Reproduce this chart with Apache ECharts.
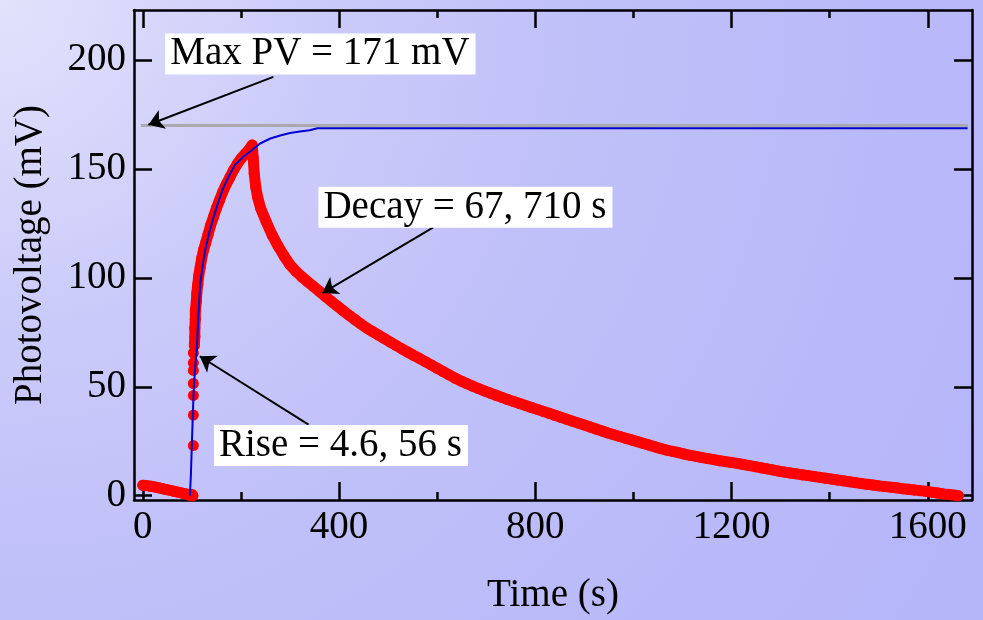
<!DOCTYPE html>
<html>
<head>
<meta charset="utf-8">
<title>Photovoltage rise and decay</title>
<script src="https://cdn.jsdelivr.net/npm/echarts@6/dist/echarts.min.js"></script>
<style>
  html, body { margin: 0; padding: 0; }
  #chart { width: 983px; height: 620px; }
</style>
</head>
<body>
<div id="chart"></div>
<script>
// measured points (time in s, photovoltage in mV)
const dataTime = [
  0, 8, 16, 24, 32, 40, 48, 56, 64, 72, 80, 88, 94, 98, 100, 102,
  103, 103, 103, 103, 103, 103, 103, 105, 106, 106, 107, 107, 109, 110, 112, 114,
  117, 120, 124, 128, 133, 138, 144, 150, 156, 163, 170, 177, 185, 193, 201, 209,
  215, 220, 223, 225, 227, 230, 234, 240, 252, 264, 276, 288, 300, 312, 324, 336,
  348, 360, 372, 384, 396, 408, 420, 432, 444, 456, 468, 480, 492, 504, 516, 528,
  540, 552, 564, 576, 588, 600, 612, 624, 636, 648, 660, 672, 684, 696, 708, 720,
  732, 744, 756, 768, 780, 792, 804, 816, 828, 840, 852, 864, 876, 888, 900, 912,
  924, 936, 948, 960, 972, 984, 996, 1008, 1020, 1032, 1044, 1056, 1068, 1080, 1092, 1104,
  1116, 1128, 1140, 1152, 1164, 1176, 1188, 1200, 1212, 1224, 1236, 1248, 1260, 1272, 1284, 1296,
  1308, 1320, 1332, 1344, 1356, 1368, 1380, 1392, 1404, 1416, 1428, 1440, 1452, 1464, 1476, 1488,
  1500, 1512, 1524, 1536, 1548, 1560, 1572, 1584, 1596, 1608, 1620, 1632, 1644, 1656, 1662
];
const dataVolt = [
  4.8, 4.6, 4.3, 4.0, 3.6, 3.2, 2.8, 2.4, 2.0, 1.6, 1.2, 0.8, 0.3, 0, 0.5, 0,
  23, 37, 46, 51.5, 57.5, 61, 65.5, 69, 73, 77, 81, 85, 89, 93, 97, 101,
  105, 109, 113, 116, 120, 124, 128, 132, 135.5, 139.5, 143, 146, 149.5, 152.5, 155, 157,
  158.5, 160, 161, 155, 148, 142, 137, 132, 125.5, 119.5, 114.5, 110, 106, 103, 100.5, 98.2,
  96, 93.8, 91.5, 89.3, 87.1, 85, 82.9, 80.9, 78.9, 77, 75.4, 73.8, 72.2, 70.6, 69, 67.4,
  65.9, 64.4, 63, 61.5, 60, 58.5, 57, 55.5, 54, 52.7, 51.5, 50.3, 49.2, 48.1, 47.1, 46.1,
  45.1, 44.1, 43.2, 42.3, 41.4, 40.5, 39.6, 38.7, 37.8, 36.9, 36, 35.1, 34.2, 33.3, 32.4, 31.5,
  30.6, 29.7, 28.8, 28, 27.2, 26.4, 25.6, 24.8, 24, 23.2, 22.4, 21.6, 20.9, 20.3, 19.7, 19.1,
  18.5, 18, 17.5, 17, 16.5, 16, 15.6, 15.2, 14.8, 14.3, 13.8, 13.3, 12.8, 12.3, 11.8, 11.3,
  10.8, 10.4, 10, 9.6, 9.2, 8.8, 8.4, 8, 7.6, 7.2, 6.8, 6.4, 6, 5.6, 5.2, 4.9,
  4.5, 4.2, 3.9, 3.6, 3.2, 2.9, 2.6, 2.3, 2, 1.6, 1.2, 0.8, 0.5, 0.2, 0
];

// fitted curve
const fitTime = [96, 98, 100, 102, 104, 107, 110, 113, 117, 122, 127, 135, 144, 154, 164, 176, 188, 205, 219, 239, 260, 280, 300, 320, 340, 356, 1681];
const fitVolt = [0, 10, 24, 38, 50, 60, 67.3, 82, 97.5, 106, 112.6, 120.5, 127.7, 135, 141.3, 147, 151.9, 155.7, 158, 161.7, 164, 165.4, 166.5, 167.2, 167.8, 168.7, 168.7];

// max photovoltage line
const maxTime = [-4, 1682];
const maxVolt = [170, 170];

// axis ticks
const xMajorTicks = [0, 400, 800, 1200, 1600];
const xMinorTicks = [200, 600, 1000, 1400];
const yTicks = [0, 50, 100, 150, 200];

// annotations: text, box anchor (left, middle) and arrow from / to
const noteTexts = ['Max PV = 171 mV', 'Decay = 67, 710 s', 'Rise = 4.6, 56 s'];
const noteAnchors = [[45.6, 202.8], [357.9, 132.4], [145.1, 23]];
const arrowFrom = [[266, 192.3], [592, 123.2], [337.8, 32.6]];
const arrowTo = [[11.4, 170.3], [366, 93], [116, 64]];

const FONT = "'Liberation Serif', 'DejaVu Serif', serif";
const FRAME = { color: '#000', width: 2.5 };
const RED = '#ff0000';

const pairs = (xs, ys) => xs.map((x, i) => [x, ys[i]]);

// the sparse points on the steep part of the rise are left as single dots
const preRise = pairs(dataTime.slice(0, 16), dataVolt.slice(0, 16));
const afterRise = pairs(dataTime.slice(23), dataVolt.slice(23));

function xAxisDef(position, ticks, len, withLabels, withLine) {
  return {
    type: 'value',
    min: -18,
    max: 1690,
    position: position,
    axisLine: { show: withLine, onZero: false, lineStyle: FRAME },
    axisTick: { show: true, inside: true, length: len, customValues: ticks, lineStyle: FRAME },
    axisLabel: withLabels
      ? { show: true, customValues: ticks, formatter: v => String(v), color: '#000', fontFamily: FONT, fontSize: 39, margin: 8 }
      : { show: false },
    splitLine: { show: false }
  };
}

function yAxisDef(position, withLabels) {
  return {
    type: 'value',
    min: -2,
    max: 223,
    position: position,
    axisLine: { show: true, onZero: false, lineStyle: FRAME },
    axisTick: { show: true, inside: true, length: 18, customValues: yTicks, lineStyle: FRAME },
    axisLabel: withLabels
      ? { show: true, customValues: yTicks, formatter: v => String(v), color: '#000', fontFamily: FONT, fontSize: 39, margin: 8 }
      : { show: false },
    splitLine: { show: false }
  };
}

function bandSeries(data) {
  return {
    type: 'line',
    data: data,
    symbol: 'none',
    silent: true,
    lineStyle: { color: RED, width: 11, cap: 'round', join: 'round' },
    z: 2
  };
}

const chart = echarts.init(document.getElementById('chart'), null, { renderer: 'canvas' });

const bottomAxis = xAxisDef('bottom', xMajorTicks, 18, true, true);
bottomAxis.name = 'Time (s)';
bottomAxis.nameLocation = 'middle';
bottomAxis.nameGap = 76;
bottomAxis.nameTextStyle = { color: '#000', fontFamily: FONT, fontSize: 39 };

const leftAxis = yAxisDef('left', true);
leftAxis.name = 'Photovoltage (mV)';
leftAxis.nameLocation = 'middle';
leftAxis.nameGap = 84;
leftAxis.nameTextStyle = { color: '#000', fontFamily: FONT, fontSize: 39 };

chart.setOption({
  animation: false,
  backgroundColor: new echarts.graphic.RadialGradient(0, 0, 1.8, [
    { offset: 0, color: '#e2e2fc' },
    { offset: 0.3, color: '#cacafa' },
    { offset: 0.55, color: '#bfbff9' },
    { offset: 1, color: '#b5b5fa' }
  ]),
  grid: { left: 134, right: 11, top: 10, bottom: 113, containLabel: false },
  xAxis: [
    bottomAxis,
    xAxisDef('bottom', xMinorTicks, 8, false, false),
    xAxisDef('top', xMajorTicks, 18, false, true),
    xAxisDef('top', xMinorTicks, 8, false, false)
  ],
  yAxis: [leftAxis, yAxisDef('right', false)],
  series: [
    {
      name: 'Max PV',
      type: 'line',
      data: pairs(maxTime, maxVolt),
      symbol: 'none',
      lineStyle: { color: '#a9a9ae', width: 3 },
      z: 1
    },
    bandSeries(preRise),
    bandSeries(afterRise),
    {
      name: 'Data',
      type: 'scatter',
      data: pairs(dataTime, dataVolt),
      symbol: 'circle',
      symbolSize: 11,
      itemStyle: { color: RED, opacity: 1 },
      z: 2
    },
    {
      name: 'Fit',
      type: 'line',
      data: pairs(fitTime, fitVolt),
      symbol: 'none',
      lineStyle: { color: '#0000d0', width: 2 },
      z: 3
    },
    {
      name: 'Notes',
      type: 'scatter',
      data: noteAnchors.map((p, i) => ({ value: p, name: noteTexts[i] })),
      symbolSize: 0,
      silent: true,
      itemStyle: { opacity: 1 },
      z: 5,
      label: {
        show: true,
        position: 'right',
        distance: 0,
        formatter: p => p.name,
        color: '#000',
        opacity: 1,
        fontFamily: FONT,
        fontSize: 39,
        lineHeight: 38,
        backgroundColor: '#ffffff',
        padding: [2, 6, 1, 5]
      },
      markLine: {
        silent: true,
        symbol: ['none', 'arrow'],
        symbolSize: 15,
        label: { show: false },
        lineStyle: { color: '#000', width: 2, type: 'solid' },
        data: arrowFrom.map((p, i) => [{ coord: p }, { coord: arrowTo[i] }])
      }
    }
  ]
});
</script>
</body>
</html>
